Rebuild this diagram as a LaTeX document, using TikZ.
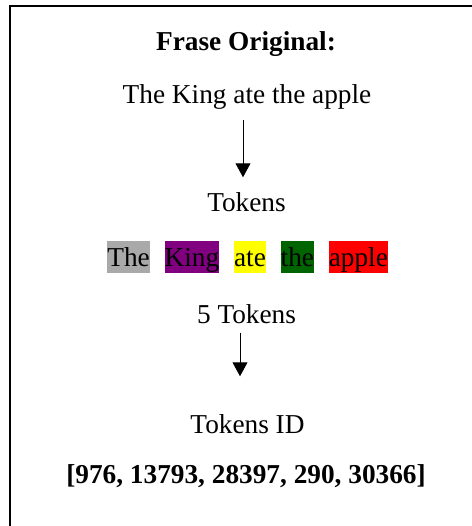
\documentclass[tikz,border=0pt]{standalone}
\usepackage{fontspec}
\setmainfont{Liberation Serif}
\usetikzlibrary{arrows.meta, positioning}

\definecolor{tokgray}{RGB}{169,169,169}
\definecolor{tokpurple}{RGB}{128,0,128}
\definecolor{tokyellow}{RGB}{255,255,0}
\definecolor{tokgreen}{RGB}{0,100,0}
\definecolor{tokred}{RGB}{255,0,0}

\begin{document}
\begin{tikzpicture}[x=0.5pt, y=-0.5pt,
    txt/.style={inner sep=0pt, anchor=base, font=\fontsize{13.65}{16.4}\selectfont},
    tok/.style={txt, text height=12.5pt, text depth=3.5pt},
    flow/.style={-{Triangle[width=7.5pt, length=7pt]}, line width=0.5pt},
    node distance=7pt]
    \useasboundingbox (0,0) rectangle (472,526);
    \draw[line width=1pt] (10,526) |- (472,6);

    \node[txt] (title) at (246,50) {\textbf{Frase Original:}};
    \node[txt] (sentence) at (247,103) {The King ate the apple};
    \node[txt] (tokens) at (246.5,211) {Tokens};

    \node[tok, fill=tokgray, anchor=base west] (tokThe) at (107,266) {The};
    \node[tok, fill=tokpurple, right=of tokThe] (tokKing) {King};
    \node[tok, fill=tokyellow, right=of tokKing] (tokAte) {ate};
    \node[tok, fill=tokgreen, right=of tokAte] (tokTheB) {the};
    \node[tok, fill=tokred, right=of tokTheB] (tokApple) {apple};

    \node[txt] (count) at (246.5,323) {5 Tokens};
    \node[txt] (ids) at (247.5,433) {Tokens ID};
    \node[txt] (idlist) at (246,483) {\textbf{[976, 13793, 28397, 290, 30366]}};

    \draw[flow, shorten <=5.5pt, shorten >=7.2pt] ([xshift=-2pt]sentence.south) -- ([xshift=-2pt]sentence.south |- tokens.north);
    \draw[flow, shorten <=4.5pt, shorten >=18.7pt] ([xshift=-3.25pt]count.south) -- ([xshift=-3.25pt]count.south |- ids.north);
\end{tikzpicture}
\end{document}
